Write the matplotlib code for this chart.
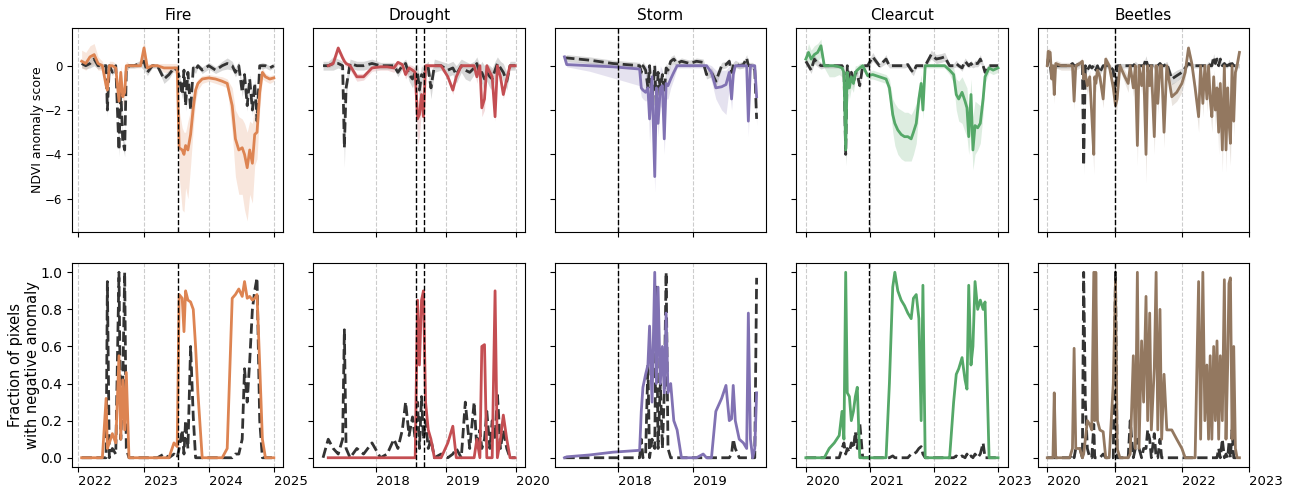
import numpy as np
import pandas as pd
import matplotlib
matplotlib.use('Agg')
import matplotlib.pyplot as plt
import matplotlib.dates as mdates

nan = np.nan

# ---------------- Fire ----------------
fire_dates = ['2022-01-19', '2022-02-11', '2022-03-07', '2022-03-30', '2022-04-21', '2022-05-15', '2022-06-05', '2022-06-12', '2022-06-23', '2022-07-10',
              '2022-07-29', '2022-08-16', '2022-08-26', '2022-09-06', '2022-09-17', '2022-09-26', '2022-10-11', '2022-11-08', '2022-12-15', '2023-01-03',
              '2023-01-22', '2023-02-19', '2023-03-19', '2023-04-25', '2023-05-23', '2023-06-20', '2023-07-08', '2023-07-19', '2023-08-05', '2023-08-15',
              '2023-08-24', '2023-09-06', '2023-09-21', '2023-10-06', '2023-10-19', '2023-11-01', '2023-11-25', '2024-01-01', '2024-02-08', '2024-03-16',
              '2024-04-13', '2024-05-11', '2024-05-29', '2024-06-17', '2024-07-06', '2024-07-19', '2024-08-03', '2024-08-17', '2024-09-01', '2024-09-14',
              '2024-09-27', '2024-10-12', '2024-10-27', '2024-11-13', '2024-12-07', '2024-12-30']
fire_ndvi = [0.2, 0.1, 0.4, 0.5, 0.1, 0.0, -0.9, -1.1, 0.0, 0.0,
             -0.1, -1.6, -0.3, -1.4, -1.2, 0.0, 0.0, 0.0, 0.0, 0.8,
             -0.1, 0.0, 0.0, -0.1, -0.1, -0.1, -0.1, -3.7, -3.8, -4.0,
             -3.6, -3.8, -3.1, -1.9, -1.1, -0.8, -0.6, -0.55, -0.6, -0.7,
             -0.8, -1.8, -3.3, -3.8, -3.7, -4.0, -4.6, -3.8, -4.4, -3.1,
             -3.0, -1.2, -0.3, -0.5, -0.6, -0.55]
fire_ndvi_lo = [-0.1, -0.2, 0.0, 0.1, -0.2, -0.2, -1.3, -1.5, -0.2, -0.2,
                -0.3, -2.0, -0.6, -1.8, -1.6, -0.2, -0.1, -0.1, -0.1, 0.3,
                -0.3, -0.1, -0.1, -0.3, -0.3, -0.3, -0.4, -5.0, -6.5, -6.6,
                -5.5, -6.0, -4.5, -2.8, -1.6, -1.1, -0.8, -0.7, -0.8, -0.9,
                -1.0, -3.0, -5.0, -5.8, -5.8, -6.5, -7.0, -5.8, -6.2, -4.5,
                -4.2, -2.0, -0.6, -0.7, -0.8, -0.7]
fire_ndvi_hi = [0.7, 0.6, 0.9, 1.0, 0.4, 0.2, -0.5, -0.7, 0.2, 0.2,
                0.1, -1.2, 0.0, -1.0, -0.8, 0.2, 0.1, 0.1, 0.2, 1.2,
                0.1, 0.1, 0.1, 0.1, 0.1, 0.1, 0.1, -2.0, -2.8, -3.0,
                -3.0, -2.5, -2.0, -1.2, -0.8, -0.6, -0.45, -0.4, -0.45, -0.5,
                -0.6, -1.0, -2.0, -2.3, -2.4, -2.6, -3.0, -2.5, -2.6, -1.8,
                -1.5, -0.6, -0.1, -0.35, -0.45, -0.4]
fire_ref = [0.1, 0.0, 0.1, 0.3, 0.0, 0.0, 0.0, -2.0, 0.0, -0.3,
            0.0, -3.8, -1.0, -3.4, -3.8, -0.2, 0.0, 0.0, 0.1, 0.2,
            -0.3, 0.0, 0.0, -0.6, -0.4, -0.1, -0.2, -0.5, -1.3, -0.2,
            -1.8, -0.3, -2.0, -0.1, -0.2, 0.0, -0.2, 0.0, -0.2, 0.0,
            0.1, 0.0, -0.3, 0.0, -1.2, -0.4, -1.8, -0.6, -2.0, -0.8,
            -2.5, 0.0, 0.0, 0.0, -0.1, 0.0]
fire_ref_sd = [0.2, 0.15, 0.2, 0.3, 0.15, 0.1, 0.1, 0.3, 0.1, 0.15,
               0.1, 0.3, 0.2, 0.3, 0.3, 0.1, 0.1, 0.1, 0.15, 0.4,
               0.15, 0.1, 0.1, 0.2, 0.2, 0.1, 0.15, 0.2, 0.2, 0.15,
               0.25, 0.15, 0.25, 0.15, 0.15, 0.1, 0.15, 0.15, 0.15, 0.2,
               0.25, 0.2, 0.2, 0.2, 0.2, 0.2, 0.25, 0.2, 0.25, 0.2,
               0.3, 0.1, 0.15, 0.1, 0.1, 0.1]
fire_frac = [0.0, 0.0, 0.0, 0.0, 0.0, 0.0, 0.32, 0.05, 0.08, 0.13,
             0.08, 0.55, 0.1, 0.42, 0.15, 0.46, 0.0, 0.0, 0.0, 0.0,
             0.0, 0.0, 0.0, 0.0, 0.0, 0.08, 0.06, 0.88, 0.86, 0.68,
             0.9, 0.85, 0.84, 0.8, 0.6, 0.35, 0.0, 0.0, 0.0, 0.0,
             0.05, 0.86, 0.88, 0.91, 0.87, 0.95, 0.86, 0.87, 0.85, 0.86,
             0.88, 0.5, 0.1, 0.0, 0.0, 0.0]
fire_ref_frac = [0.0, 0.0, 0.0, 0.0, 0.0, 0.0, 0.0, 0.95, 0.0, 0.05,
                 0.02, 1.0, 0.1, 0.4, 1.0, 0.05, 0.0, 0.0, 0.0, 0.0,
                 0.0, 0.0, 0.0, 0.02, 0.0, 0.02, 0.0, 0.05, 0.15, 0.02,
                 0.2, 0.05, 0.6, 0.22, 0.0, 0.0, 0.0, 0.0, 0.0, 0.0,
                 0.0, 0.0, 0.02, 0.02, 0.1, 0.48, 0.3, 0.52, 0.8, 0.9,
                 0.97, 0.2, 0.0, 0.0, 0.0, 0.0]
fire_events = ['2023-07-13']

# ---------------- Drought ----------------
drought_dates = ['2017-03-31', '2017-04-27', '2017-05-23', '2017-06-18', '2017-07-11', '2017-07-20', '2017-07-29', '2017-08-19', '2017-09-23', '2017-10-28',
                 '2017-12-11', '2018-01-24', '2018-02-28', '2018-04-04', '2018-04-25', '2018-05-18', '2018-06-04', '2018-06-22', '2018-07-10', '2018-07-24',
                 '2018-08-05', '2018-08-15', '2018-08-26', '2018-09-05', '2018-09-16', '2018-09-30', '2018-10-14', '2018-11-01', '2018-12-06', '2019-01-10',
                 '2019-02-05', '2019-02-23', '2019-03-21', '2019-04-11', '2019-05-04', '2019-05-27', '2019-06-10', '2019-06-26', '2019-07-06', '2019-07-20',
                 '2019-08-01', '2019-08-17', '2019-08-29', '2019-09-13', '2019-09-25', '2019-10-11', '2019-10-26', '2019-11-13', '2019-11-30', '2019-12-27']
drought_ndvi = [nan, 0.0, 0.1, 0.8, 0.35, 0.2, 0.1, 0.0, -0.5, -0.5,
                -0.1, -0.05, -0.05, -0.1, 0.15, 0.05, -0.4, -0.1, -0.2, -0.3,
                -2.4, -2.2, -1.3, -2.3, 0.0, 0.0, 0.0, 0.0, 0.0, -0.5,
                -1.1, -0.5, 0.0, 0.0, 0.0, 0.0, -0.5, 0.0, -1.9, -1.5,
                0.0, -0.3, -0.5, -2.3, 0.0, -0.5, -1.3, -0.6, 0.0, 0.0]
drought_ndvi_lo = [nan, -0.1, 0.0, 0.6, 0.2, 0.05, -0.05, -0.2, -0.7, -0.65,
                   -0.25, -0.2, -0.2, -0.3, 0.0, -0.1, -0.6, -0.3, -0.5, -0.7,
                   -3.6, -3.2, -2.0, -3.0, -0.1, -0.1, -0.1, -0.1, -0.1, -0.6,
                   -1.3, -0.6, -0.1, -0.1, -0.1, -0.1, -0.8, -0.1, -2.3, -2.0,
                   -0.1, -0.5, -0.8, -2.5, -0.1, -0.7, -1.5, -0.8, -0.1, -0.1]
drought_ndvi_hi = [nan, 0.1, 0.3, 0.9, 0.5, 0.35, 0.2, 0.1, -0.35, -0.35,
                   0.0, 0.05, 0.05, 0.05, 0.25, 0.15, -0.2, 0.05, 0.0, -0.1,
                   -1.6, -1.4, -0.8, -1.6, 0.1, 0.1, 0.1, 0.1, 0.1, -0.4,
                   -0.9, -0.4, 0.1, 0.1, 0.1, 0.1, -0.2, 0.1, -1.3, -1.0,
                   0.1, -0.1, -0.2, -1.8, 0.1, -0.3, -1.1, -0.4, 0.1, 0.1]
drought_ref = [0.0, 0.0, 0.1, 0.1, 0.0, -3.7, -1.0, 0.1, 0.0, 0.0,
               0.1, 0.0, 0.0, 0.0, -0.3, 0.0, 0.1, -0.4, -0.6, -0.3,
               -0.3, -1.1, -0.4, -0.5, -0.2, -0.1, -1.0, 0.0, 0.0, -0.2,
               -0.1, -0.4, 0.0, -0.2, -0.3, -0.1, 0.1, -0.4, -0.3, -0.6,
               -0.3, -0.5, -0.6, -0.2, 0.1, -0.1, -0.3, -0.7, 0.0, 0.0]
drought_ref_sd = [0.2, 0.2, 0.3, 0.2, 0.2, 0.9, 0.4, 0.2, 0.2, 0.2,
                  0.2, 0.15, 0.15, 0.15, 0.2, 0.15, 0.2, 0.3, 0.4, 0.3,
                  0.4, 0.6, 0.4, 0.4, 0.3, 0.3, 0.5, 0.3, 0.2, 0.3,
                  0.3, 0.4, 0.3, 0.4, 0.4, 0.3, 0.3, 0.4, 0.5, 0.6,
                  0.4, 0.5, 0.5, 0.4, 0.3, 0.3, 0.4, 0.4, 0.2, 0.2]
drought_frac = [nan, 0.0, 0.0, 0.0, 0.0, 0.0, 0.0, 0.0, 0.0, 0.0,
                0.0, 0.0, 0.0, 0.0, 0.0, 0.0, 0.0, 0.0, 0.0, 0.0,
                0.85, 0.5, 0.85, 0.9, 0.3, 0.15, 0.1, 0.0, 0.0, 0.08,
                0.17, 0.0, 0.0, 0.0, 0.0, 0.0, 0.1, 0.0, 0.6, 0.61,
                0.0, 0.0, 0.0, 0.9, 0.0, 0.1, 0.23, 0.1, 0.0, 0.0]
drought_ref_frac = [0.0, 0.1, 0.05, 0.02, 0.1, 0.69, 0.05, 0.0, 0.05, 0.02,
                    0.08, 0.0, 0.02, 0.1, 0.05, 0.15, 0.3, 0.12, 0.22, 0.1,
                    0.3, 0.05, 0.33, 0.1, 0.2, 0.05, 0.1, 0.0, 0.02, 0.0,
                    0.02, 0.05, 0.0, 0.3, 0.05, 0.3, 0.05, 0.15, 0.05, 0.1,
                    0.25, 0.05, 0.2, 0.1, 0.35, 0.05, 0.15, 0.05, 0.0, 0.0]
drought_events = ['2018-07-29', '2018-09-09']

# ---------------- Storm ----------------
storm_dates = ['2017-04-18', '2017-04-29', '2017-08-17', '2017-12-08', '2018-04-16', '2018-04-24', '2018-05-02', '2018-05-15', '2018-05-26', '2018-06-03',
               '2018-06-15', '2018-06-28', '2018-07-06', '2018-07-14', '2018-07-25', '2018-08-04', '2018-08-13', '2018-08-22', '2018-08-31', '2018-09-13',
               '2018-09-28', '2018-10-14', '2018-11-04', '2018-12-14', '2019-01-16', '2019-02-17', '2019-03-05', '2019-03-29', '2019-04-19', '2019-05-17',
               '2019-06-07', '2019-06-23', '2019-07-04', '2019-07-12', '2019-07-22', '2019-08-10', '2019-08-30', '2019-09-15', '2019-09-23', '2019-10-03',
               '2019-10-14', '2019-10-24', '2019-11-02']
storm_ndvi = [0.4, 0.05, 0.0, -0.05, -0.15, -1.0, -1.1, -1.2, -1.0, -2.4,
              -0.5, -5.0, -1.0, -2.6, -1.0, -0.9, -3.3, -0.8, -0.9, -0.6,
              -0.3, 0.0, 0.0, 0.0, 0.0, 0.0, 0.0, -0.3, -1.0, -0.95,
              -0.85, -0.3, -1.5, -0.4, 0.0, 0.0, 0.0, 0.0, -2.5, 0.0,
              0.0, 0.0, -1.4]
storm_ndvi_lo = [0.3, -0.05, -0.25, -0.55, -0.9, -1.4, -1.5, -1.6, -1.5, -3.5,
                 -1.5, -5.7, -2.0, -3.2, -1.8, -2.0, -4.0, -1.5, -1.5, -1.0,
                 -0.6, -0.1, -0.1, -0.1, -0.1, -0.1, -0.1, -0.7, -1.5, -2.0,
                 -2.2, -1.0, -2.0, -1.0, -0.1, -0.1, -0.1, -0.1, -3.2, -0.1,
                 -0.1, -0.1, -1.8]
storm_ndvi_hi = [0.5, 0.2, 0.15, 0.1, 0.0, -0.2, -0.4, 0.0, 0.0, -1.0,
                 0.0, -2.0, 0.0, -1.0, 0.0, -0.2, -1.8, 0.0, -0.2, 0.0,
                 0.1, 0.1, 0.1, 0.1, 0.1, 0.1, 0.1, 0.0, -0.2, -0.2,
                 -0.2, 0.0, -0.5, 0.0, 0.1, 0.1, 0.1, 0.1, -1.0, 0.1,
                 0.1, 0.1, -0.9]
storm_ref = [0.3, 0.35, 0.25, 0.1, 0.0, -0.3, 0.0, -0.2, -1.0, 0.0,
             -1.6, 0.0, -2.0, -0.3, -1.0, -0.4, -1.2, -0.1, -0.2, 0.2,
             0.3, 0.1, 0.2, 0.1, 0.2, 0.15, -0.4, -0.3, -0.7, 0.0,
             0.05, 0.2, -0.3, 0.0, 0.1, 0.0, 0.05, 0.35, 0.0, 0.0,
             0.0, -0.2, -2.4]
storm_ref_sd = [0.1, 0.15, 0.15, 0.15, 0.15, 0.2, 0.2, 0.2, 0.3, 0.2,
                0.3, 0.2, 0.4, 0.2, 0.3, 0.2, 0.3, 0.2, 0.2, 0.2,
                0.2, 0.15, 0.15, 0.15, 0.15, 0.15, 0.2, 0.2, 0.25, 0.15,
                0.15, 0.15, 0.2, 0.15, 0.15, 0.15, 0.15, 0.15, 0.15, 0.15,
                0.15, 0.2, 0.3]
storm_frac = [0.0, 0.005, 0.015, 0.03, 0.04, 0.25, 0.38, 0.45, 0.5, 0.71,
              0.3, 1.0, 0.4, 0.92, 0.4, 0.6, 0.35, 0.78, 0.35, 0.4,
              0.2, 0.15, 0.0, 0.0, 0.0, 0.02, 0.0, 0.0, 0.25, 0.32,
              0.39, 0.2, 0.21, 0.39, 0.2, 0.1, 0.08, 0.05, 0.78, 0.1,
              0.0, 0.05, 0.35]
storm_ref_frac = [0.0, 0.0, 0.0, 0.0, 0.0, 0.1, 0.0, 0.02, 0.5, 0.0,
                  0.1, 0.05, 0.92, 0.05, 0.4, 0.05, 0.35, 1.0, 0.05, 0.0,
                  0.0, 0.0, 0.0, 0.0, 0.0, 0.0, 0.0, 0.0, 0.0, 0.0,
                  0.0, 0.0, 0.02, 0.1, 0.05, 0.0, 0.0, 0.0, 0.0, 0.0,
                  0.0, 0.0, 0.97]
storm_events = ['2018-01-03']

# ---------------- Clearcut ----------------
clear_dates = ['2020-01-01', '2020-01-16', '2020-01-31', '2020-02-18', '2020-03-08', '2020-03-27', '2020-04-15', '2020-05-13', '2020-06-11', '2020-07-09',
               '2020-07-25', '2020-08-05', '2020-08-15', '2020-08-24', '2020-09-05', '2020-09-16', '2020-09-28', '2020-10-09', '2020-10-20', '2020-11-03',
               '2020-11-20', '2020-12-18', '2021-01-16', '2021-02-23', '2021-04-02', '2021-04-21', '2021-05-10', '2021-05-22', '2021-06-08', '2021-06-27',
               '2021-07-16', '2021-08-04', '2021-08-23', '2021-09-05', '2021-09-21', '2021-10-06', '2021-10-19', '2021-10-29', '2021-11-11', '2021-12-15',
               '2022-01-13', '2022-02-11', '2022-03-02', '2022-03-30', '2022-04-22', '2022-05-07', '2022-05-21', '2022-06-09', '2022-06-26', '2022-07-07',
               '2022-07-17', '2022-07-30', '2022-08-10', '2022-08-22', '2022-09-06', '2022-09-21', '2022-10-07', '2022-10-18', '2022-11-10', '2022-12-03',
               '2022-12-31']
clear_ndvi = [0.3, 0.6, 0.3, 0.5, 0.6, 0.9, 0.0, 0.0, 0.0, -0.05,
              -0.1, -0.3, -3.8, -0.3, -1.0, -0.5, -0.8, -0.3, -0.2, -0.1,
              0.0, -0.45, -0.4, -0.5, -0.6, -1.0, -2.2, -2.6, -2.9, -3.1,
              -3.2, -3.2, -3.3, -3.0, -2.6, -1.5, -0.8, -2.0, 0.0, 0.0,
              0.0, 0.0, 0.0, -0.2, -0.4, -1.3, -1.5, -1.2, -1.6, -1.9,
              -3.2, -1.3, -3.8, -2.7, -2.8, -2.6, -1.5, -0.5, -0.1, -0.2,
              -0.1]
clear_ndvi_lo = [0.1, 0.2, -0.1, 0.1, 0.2, 0.4, -0.1, -0.5, -0.5, -0.4,
                 -0.5, -0.7, -4.5, -0.7, -1.5, -1.0, -1.2, -0.6, -0.4, -0.3,
                 -0.1, -0.6, -0.6, -0.7, -0.8, -1.5, -3.0, -3.6, -4.0, -4.2,
                 -4.3, -4.3, -4.3, -4.0, -3.5, -2.0, -1.2, -2.4, -0.1, -0.1,
                 -0.1, -0.1, -0.1, -0.4, -0.8, -2.0, -2.5, -2.6, -3.0, -3.2,
                 -4.0, -2.8, -4.7, -4.0, -3.8, -3.5, -2.2, -0.8, -0.3, -0.4,
                 -0.3]
clear_ndvi_hi = [0.5, 1.0, 0.7, 0.9, 1.0, 1.2, 0.1, 0.05, 0.0, 0.0,
                 0.0, 0.0, -2.5, 0.0, -0.5, -0.2, -0.4, 0.0, 0.0, 0.1,
                 0.1, -0.3, -0.2, -0.3, -0.4, -0.6, -1.5, -1.7, -1.9, -2.0,
                 -2.1, -2.1, -2.2, -2.0, -1.7, -1.0, -0.4, -1.5, 0.1, 0.1,
                 0.1, 0.1, 0.1, 0.0, -0.1, -0.6, -0.7, -0.5, -0.8, -1.0,
                 -2.2, -0.6, -2.3, -1.6, -1.7, -1.8, -0.9, -0.2, 0.05, 0.0,
                 0.05]
clear_ref = [0.2, 0.0, -0.2, 0.3, 0.1, 0.0, 0.0, 0.0, 0.0, 0.0,
             0.0, -0.2, -4.0, 0.0, -0.6, -0.3, -0.8, -0.3, -0.4, -0.9,
             0.0, 0.0, 0.4, 0.0, 0.3, 0.0, 0.0, 0.0, 0.0, 0.0,
             0.0, 0.05, -0.2, -0.3, 0.0, 0.0, 0.0, 0.0, 0.0, 0.5,
             0.3, 0.35, 0.4, 0.0, 0.0, 0.1, 0.0, -0.1, 0.2, 0.1,
             0.0, 0.1, 0.0, 0.1, 0.1, 0.3, 0.0, -0.3, 0.0, 0.0,
             0.0]
clear_ref_sd = [0.15, 0.15, 0.15, 0.2, 0.15, 0.15, 0.1, 0.1, 0.1, 0.1,
                0.1, 0.15, 0.5, 0.15, 0.2, 0.15, 0.2, 0.15, 0.15, 0.2,
                0.1, 0.1, 0.2, 0.1, 0.2, 0.1, 0.1, 0.1, 0.1, 0.1,
                0.1, 0.1, 0.15, 0.15, 0.1, 0.1, 0.1, 0.1, 0.1, 0.2,
                0.2, 0.2, 0.2, 0.1, 0.1, 0.15, 0.1, 0.15, 0.15, 0.15,
                0.1, 0.15, 0.1, 0.15, 0.15, 0.2, 0.1, 0.15, 0.1, 0.1,
                0.1]
clear_frac = [0.0, 0.0, 0.0, 0.0, 0.0, 0.0, 0.0, 0.05, 0.08, 0.12,
              0.25, 0.1, 1.0, 0.35, 0.33, 0.2, 0.25, 0.33, 0.38, 0.0,
              0.0, 0.0, 0.0, 0.0, 0.0, 0.4, 0.92, 1.0, 0.9, 0.85,
              0.82, 0.78, 0.75, 0.86, 0.88, 0.75, 0.2, 0.93, 0.0, 0.0,
              0.0, 0.0, 0.0, 0.0, 0.3, 0.45, 0.48, 0.54, 0.42, 0.37,
              0.93, 0.5, 0.6, 0.95, 0.8, 0.85, 0.8, 0.84, 0.0, 0.0,
              0.0]
clear_ref_frac = [0.0, 0.0, 0.0, 0.0, 0.0, 0.0, 0.0, 0.0, 0.0, 0.0,
                  0.05, 0.08, 0.02, 0.05, 0.03, 0.08, 0.05, 0.14, 0.05, 0.19,
                  0.0, 0.0, 0.0, 0.0, 0.0, 0.0, 0.01, 0.0, 0.0, 0.0,
                  0.0, 0.0, 0.02, 0.02, 0.03, 0.05, 0.06, 0.02, 0.0, 0.0,
                  0.0, 0.0, 0.0, 0.0, 0.0, 0.01, 0.0, 0.01, 0.0, 0.02,
                  0.0, 0.01, 0.0, 0.02, 0.0, 0.02, 0.08, 0.0, 0.0, 0.0,
                  0.0]
clear_events = ['2020-12-28']

# ---------------- Beetles ----------------
beetle_dates = ['2020-01-01', '2020-01-06', '2020-01-17', '2020-01-25', '2020-02-01', '2020-02-08', '2020-02-16', '2020-03-17', '2020-05-02', '2020-05-17',
                '2020-05-26', '2020-06-04', '2020-06-26', '2020-07-10', '2020-07-17', '2020-07-26', '2020-08-06', '2020-08-19', '2020-08-30', '2020-09-10',
                '2020-09-15', '2020-09-21', '2020-09-30', '2020-10-13', '2020-10-31', '2020-11-14', '2020-12-03', '2020-12-25', '2021-01-06', '2021-01-15',
                '2021-01-30', '2021-02-26', '2021-03-16', '2021-03-27', '2021-04-13', '2021-04-24', '2021-05-05', '2021-05-14', '2021-05-28', '2021-06-08',
                '2021-06-21', '2021-06-30', '2021-07-11', '2021-07-20', '2021-08-05', '2021-08-15', '2021-08-24', '2021-09-05', '2021-09-14', '2021-09-27',
                '2021-10-12', '2021-11-08', '2021-12-05', '2022-01-02', '2022-01-20', '2022-02-07', '2022-02-25', '2022-03-15', '2022-04-03', '2022-04-14',
                '2022-04-26', '2022-05-07', '2022-05-18', '2022-05-27', '2022-06-05', '2022-06-14', '2022-06-24', '2022-07-03', '2022-07-12', '2022-07-21',
                '2022-07-30', '2022-08-10', '2022-08-21', '2022-08-30', '2022-09-08', '2022-09-15', '2022-09-23', '2022-10-02', '2022-10-11', '2022-10-20',
                '2022-10-29', '2022-11-11']
beetle_ndvi = [0.0, 0.65, 0.6, -0.6, 0.0, -1.3, 0.1, 0.0, 0.0, 0.0,
               -1.6, 0.0, 0.1, 0.2, -0.6, -0.4, -0.9, -0.5, -2.2, -4.0,
               -0.5, -0.8, -0.2, -0.5, -1.5, 0.3, 0.0, -1.0, -1.8, -1.5,
               0.0, -0.5, -0.8, 0.0, -1.0, 0.0, -3.6, 0.0, -0.9, 0.0,
               -4.0, 0.0, -0.9, 0.0, -3.2, 0.0, -1.7, 0.0, 0.0, -3.0,
               0.0, -1.4, -1.2, -0.8, -0.3, 0.8, 0.1, -1.0, -2.3, 0.0,
               -1.7, 0.0, -1.5, 0.0, -1.5, -2.3, -0.5, -2.0, -1.0, -3.0,
               -0.8, -3.8, 0.0, -3.8, -1.0, -2.5, -3.5, 0.0, -2.5, -0.3,
               0.0, 0.6]
beetle_ndvi_lo = [-0.2, 0.4, 0.4, -0.9, -0.2, -1.7, -0.1, -0.2, -0.2, -0.2,
                  -2.0, -0.2, -0.1, 0.0, -0.9, -0.8, -1.3, -0.9, -2.6, -4.9,
                  -0.9, -1.2, -0.5, -0.8, -1.9, 0.1, -0.2, -1.4, -2.3, -1.9,
                  -0.2, -0.8, -1.2, -0.2, -1.4, -0.2, -4.5, -0.2, -1.3, -0.2,
                  -5.3, -0.2, -1.3, -0.2, -4.0, -0.2, -2.2, -0.2, -0.2, -3.7,
                  -0.2, -1.8, -1.6, -1.2, -0.6, 0.6, -0.1, -1.4, -3.0, -0.2,
                  -2.3, -0.2, -2.1, -0.2, -2.1, -3.0, -0.9, -2.8, -1.6, -4.0,
                  -1.4, -4.8, -0.3, -4.8, -1.6, -3.5, -4.5, -0.3, -3.2, -0.6,
                  -0.2, 0.4]
beetle_ndvi_hi = [0.2, 0.8, 0.75, -0.4, 0.15, -1.0, 0.25, 0.15, 0.15, 0.15,
                  -1.3, 0.15, 0.25, 0.35, -0.3, -0.1, -0.6, -0.2, -1.8, -3.4,
                  -0.2, -0.5, 0.0, -0.2, -1.1, 0.45, 0.15, -0.7, -1.4, -1.1,
                  0.15, -0.2, -0.5, 0.15, -0.7, 0.15, -2.9, 0.15, -0.6, 0.15,
                  -3.2, 0.15, -0.6, 0.15, -2.6, 0.15, -1.3, 0.15, 0.15, -2.5,
                  0.15, -0.8, -0.7, -0.4, 0.0, 0.95, 0.25, -0.7, -1.8, 0.15,
                  -1.3, 0.15, -1.1, 0.15, -1.1, -1.7, -0.2, -1.5, -0.6, -2.3,
                  -0.4, -3.0, 0.15, -3.0, -0.6, -1.8, -2.7, 0.15, -1.9, -0.1,
                  0.15, 0.75]
beetle_ref = [0.0, 0.3, 0.1, -0.6, 0.0, 0.0, 0.0, 0.0, 0.0, 0.1,
              0.0, 0.0, 0.1, 0.1, -4.5, 0.0, -0.2, 0.0, -0.1, 0.0,
              0.0, -0.2, 0.0, -0.3, 0.0, 0.0, 0.0, -0.2, -1.5, 0.0,
              0.0, 0.0, 0.0, 0.0, 0.0, 0.1, 0.0, 0.0, 0.0, 0.0,
              0.3, 0.0, 0.0, 0.0, 0.0, 0.0, 0.0, 0.1, 0.0, 0.0,
              0.1, -0.6, -0.45, -0.3, -0.1, 0.1, 0.0, 0.0, 0.0, 0.0,
              0.0, 0.0, 0.0, 0.1, 0.0, 0.0, 0.4, 0.1, 0.3, 0.0,
              0.3, 0.0, 0.1, 0.0, 0.0, 0.2, 0.0, 0.1, 0.0, 0.0,
              0.0, 0.0]
beetle_ref_sd = [0.1, 0.15, 0.1, 0.15, 0.1, 0.1, 0.1, 0.1, 0.1, 0.1,
                 0.1, 0.1, 0.1, 0.1, 0.4, 0.1, 0.1, 0.1, 0.1, 0.1,
                 0.1, 0.1, 0.1, 0.15, 0.1, 0.1, 0.1, 0.1, 0.3, 0.1,
                 0.1, 0.1, 0.1, 0.1, 0.1, 0.1, 0.1, 0.1, 0.1, 0.1,
                 0.15, 0.1, 0.1, 0.1, 0.1, 0.1, 0.1, 0.1, 0.1, 0.1,
                 0.1, 0.25, 0.25, 0.2, 0.15, 0.1, 0.1, 0.1, 0.1, 0.1,
                 0.1, 0.1, 0.1, 0.1, 0.1, 0.1, 0.15, 0.1, 0.15, 0.1,
                 0.15, 0.1, 0.1, 0.1, 0.1, 0.1, 0.1, 0.1, 0.1, 0.1,
                 0.1, 0.1]
beetle_frac = [0.0, 0.0, 0.0, 0.0, 0.0, 0.35, 0.0, 0.0, 0.0, 0.05,
               0.59, 0.05, 0.05, 0.0, 0.02, 0.1, 0.2, 0.18, 0.15, 1.0,
               0.2, 1.0, 0.2, 0.15, 0.14, 0.0, 0.0, 0.4, 0.95, 0.05,
               0.0, 0.0, 0.0, 0.02, 0.55, 0.05, 1.0, 0.05, 0.63, 0.3,
               0.87, 0.2, 0.78, 0.15, 0.48, 1.0, 0.15, 0.8, 0.1, 0.45,
               0.15, 0.15, 0.1, 0.05, 0.0, 0.0, 0.0, 0.0, 0.95, 0.1,
               1.0, 0.2, 0.5, 0.1, 0.55, 0.1, 0.6, 0.2, 0.63, 0.1,
               0.55, 0.2, 0.96, 0.1, 0.5, 0.94, 0.97, 0.1, 0.6, 0.05,
               0.0, 0.0]
beetle_ref_frac = [0.0, 0.0, 0.0, 0.0, 0.0, 0.0, 0.0, 0.0, 0.0, 0.02,
                   0.0, 0.05, 0.05, 0.0, 1.0, 0.3, 0.05, 0.0, 0.0, 0.18,
                   0.0, 0.0, 0.0, 0.0, 0.02, 0.0, 0.0, 0.0, 1.0, 0.0,
                   0.0, 0.0, 0.0, 0.2, 0.0, 0.05, 0.1, 0.05, 0.0, 0.05,
                   0.05, 0.15, 0.1, 0.0, 0.13, 0.0, 0.0, 0.1, 0.0, 0.0,
                   0.0, 0.0, 0.0, 0.0, 0.0, 0.0, 0.0, 0.0, 0.0, 0.0,
                   0.0, 0.0, 0.0, 0.0, 0.0, 0.0, 0.0, 0.0, 0.0, 0.05,
                   0.0, 0.1, 0.0, 0.02, 0.0, 0.08, 0.0, 0.15, 0.0, 0.0,
                   0.0, 0.0]
beetle_events = ['2021-01-03']

panels = [
    ('Fire', '#dd8452', fire_dates, fire_ndvi, fire_ndvi_lo, fire_ndvi_hi, fire_ref, fire_ref_sd, fire_frac, fire_ref_frac, fire_events),
    ('Drought', '#c44e52', drought_dates, drought_ndvi, drought_ndvi_lo, drought_ndvi_hi, drought_ref, drought_ref_sd, drought_frac, drought_ref_frac, drought_events),
    ('Storm', '#8172b3', storm_dates, storm_ndvi, storm_ndvi_lo, storm_ndvi_hi, storm_ref, storm_ref_sd, storm_frac, storm_ref_frac, storm_events),
    ('Clearcut', '#55a868', clear_dates, clear_ndvi, clear_ndvi_lo, clear_ndvi_hi, clear_ref, clear_ref_sd, clear_frac, clear_ref_frac, clear_events),
    ('Beetles', '#937860', beetle_dates, beetle_ndvi, beetle_ndvi_lo, beetle_ndvi_hi, beetle_ref, beetle_ref_sd, beetle_frac, beetle_ref_frac, beetle_events),
]

ref_color = '#333333'

fig, axes = plt.subplots(2, 5, figsize=(12.91, 4.88), dpi=100, sharex='col', sharey='row')
fig.subplots_adjust(left=0.0558, right=0.9675, top=0.9426, bottom=0.043, wspace=0.142, hspace=0.152)

for j, (name, color, dates, ndvi, lo, hi, ref, ref_sd, frac, ref_frac, events) in enumerate(panels):
    t = pd.to_datetime(dates)
    ref = np.array(ref)
    ref_sd = np.array(ref_sd)

    # NDVI anomaly score
    ax = axes[0, j]
    ax.fill_between(t, lo, hi, color=color, alpha=0.2, lw=0)
    ax.fill_between(t, ref - ref_sd, ref + ref_sd, color='gray', alpha=0.3, lw=0)
    ax.plot(t, ref, color=ref_color, ls='--', lw=2)
    ax.plot(t, ndvi, color=color, lw=2)
    ax.set_title(name, fontsize=11)

    # fraction of pixels with negative anomaly
    ax2 = axes[1, j]
    ax2.plot(t, ref_frac, color=ref_color, ls='--', lw=2)
    ax2.plot(t, frac, color=color, lw=2)

    for a in (ax, ax2):
        for ev in events:
            a.axvline(pd.Timestamp(ev), color='black', ls='--', lw=1)
        a.grid(axis='x', ls='--', color='#cccccc', lw=0.8)

    ax2.xaxis.set_major_locator(mdates.YearLocator())
    ax2.xaxis.set_major_formatter(mdates.DateFormatter('%Y'))
    ax2.tick_params(axis='x', labelsize=9.5, pad=2)

axes[0, 0].set_ylim(-7.5, 1.7)
axes[0, 0].set_yticks([-6, -4, -2, 0])
axes[0, 0].tick_params(axis='y', labelsize=8.5)
axes[0, 0].set_ylabel('NDVI anomaly score', fontsize=9, labelpad=1)

axes[1, 0].set_ylim(-0.05, 1.05)
axes[1, 0].set_yticks([0.0, 0.2, 0.4, 0.6, 0.8, 1.0])
axes[1, 0].tick_params(axis='y', labelsize=10)
axes[1, 0].set_ylabel('Fraction of pixels\nwith negative anomaly', fontsize=10.5, labelpad=0)

for ax2 in axes[1]:
    for lbl in ax2.get_xticklabels():
        lbl.set_horizontalalignment('left')

fig.savefig('out.png', dpi=100)
